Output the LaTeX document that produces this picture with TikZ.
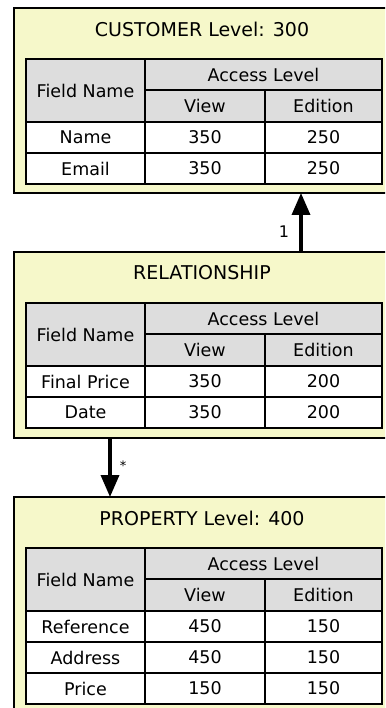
\documentclass[tikz,border=0pt]{standalone}
\usepackage{fontspec}
\setmainfont{DejaVu Sans}
\usetikzlibrary{positioning}
\usetikzlibrary{calc}
\usetikzlibrary{arrows.meta}
\definecolor{entityfill}{RGB}{246,248,202}
\definecolor{headfill}{RGB}{221,221,221}

\begin{document}
\begin{tikzpicture}[x=1pt, y=-1pt,
    entity/.style={draw, line width=1.3pt, fill=entityfill, anchor=north west, inner sep=0pt, outer sep=0pt, minimum width=376pt},
    title/.style={font=\fontsize{19}{21}\selectfont},
    cell/.style={draw, line width=1.1pt, anchor=north west, inner sep=0pt, outer sep=0pt, font=\fontsize{17.5}{19}\selectfont},
    head/.style={cell, fill=headfill},
    data/.style={cell, fill=white, minimum height=31pt},
    assoc/.style={line width=3.5pt, -{Triangle[length=22pt,width=18pt]}}]
            \useasboundingbox (0,0) rectangle (385,708);
            \clip (0,0) rectangle (385,708);

            % customer
            \node[entity, minimum height=185pt] (customer) at (14,8) {};
            \node[title] (cust-title) at ($(customer.north)+(0,21)$) {CUSTOMER Level: 300};
            \node[head, minimum width=119pt, minimum height=63pt] (cust-field) at ($(customer.north west)+(12,51)$) {Field Name};
            \node[head, minimum width=237pt, minimum height=31pt] (cust-access) at (cust-field.north east) {Access Level};
            \node[head, minimum width=120pt, minimum height=32pt] (cust-view) at (cust-access.south west) {View};
            \node[head, minimum width=117pt, minimum height=32pt] (cust-edition) at (cust-view.north east) {Edition};
            \foreach \fname/\vw/\ed [count=\i] in {Name/350/250, Email/350/250} {
                \node[data, minimum width=119pt] (cust-name-\i) at ($(cust-field.south west)+(0,{31*(\i-1)})$) {\fname};
                \node[data, minimum width=120pt] (cust-view-\i) at (cust-name-\i.north east) {\vw};
                \node[data, minimum width=117pt] (cust-ed-\i) at (cust-view-\i.north east) {\ed};
            }

            % relationship
            \node[entity, minimum height=186pt] (relation) at (14,252) {};
            \node[title] (rel-title) at ($(relation.north)+(0,21)$) {RELATIONSHIP};
            \node[head, minimum width=119pt, minimum height=63pt] (rel-field) at ($(relation.north west)+(12,51)$) {Field Name};
            \node[head, minimum width=237pt, minimum height=31pt] (rel-access) at (rel-field.north east) {Access Level};
            \node[head, minimum width=120pt, minimum height=32pt] (rel-view) at (rel-access.south west) {View};
            \node[head, minimum width=117pt, minimum height=32pt] (rel-edition) at (rel-view.north east) {Edition};
            \foreach \fname/\vw/\ed [count=\i] in {Final Price/350/200, Date/350/200} {
                \node[data, minimum width=119pt] (rel-name-\i) at ($(rel-field.south west)+(0,{31*(\i-1)})$) {\fname};
                \node[data, minimum width=120pt] (rel-view-\i) at (rel-name-\i.north east) {\vw};
                \node[data, minimum width=117pt] (rel-ed-\i) at (rel-view-\i.north east) {\ed};
            }

            % property
            \node[entity, minimum height=220pt] (property) at (14,497) {};
            \node[title] (prop-title) at ($(property.north)+(0,21)$) {PROPERTY Level: 400};
            \node[head, minimum width=119pt, minimum height=63pt] (prop-field) at ($(property.north west)+(12,51)$) {Field Name};
            \node[head, minimum width=237pt, minimum height=31pt] (prop-access) at (prop-field.north east) {Access Level};
            \node[head, minimum width=120pt, minimum height=32pt] (prop-view) at (prop-access.south west) {View};
            \node[head, minimum width=117pt, minimum height=32pt] (prop-edition) at (prop-view.north east) {Edition};
            \foreach \fname/\vw/\ed [count=\i] in {Reference/450/150, Address/450/150, Price/150/150} {
                \node[data, minimum width=119pt] (prop-name-\i) at ($(prop-field.south west)+(0,{31*(\i-1)})$) {\fname};
                \node[data, minimum width=120pt] (prop-view-\i) at (prop-name-\i.north east) {\vw};
                \node[data, minimum width=117pt] (prop-ed-\i) at (prop-view-\i.north east) {\ed};
            }

            % associations
            \draw[assoc] ($(relation.north west)+(287,0)$) -- ($(customer.south west)+(287,0)$);
            \node[font=\fontsize{16}{18}\selectfont] (one) at (284,232) {1};
            \draw[assoc] ($(relation.south west)+(96,0)$) -- ($(property.north west)+(96,0)$);
            \node[font=\fontsize{13}{15}\selectfont] (many) at (123,466) {*};
        \end{tikzpicture}
\end{document}
